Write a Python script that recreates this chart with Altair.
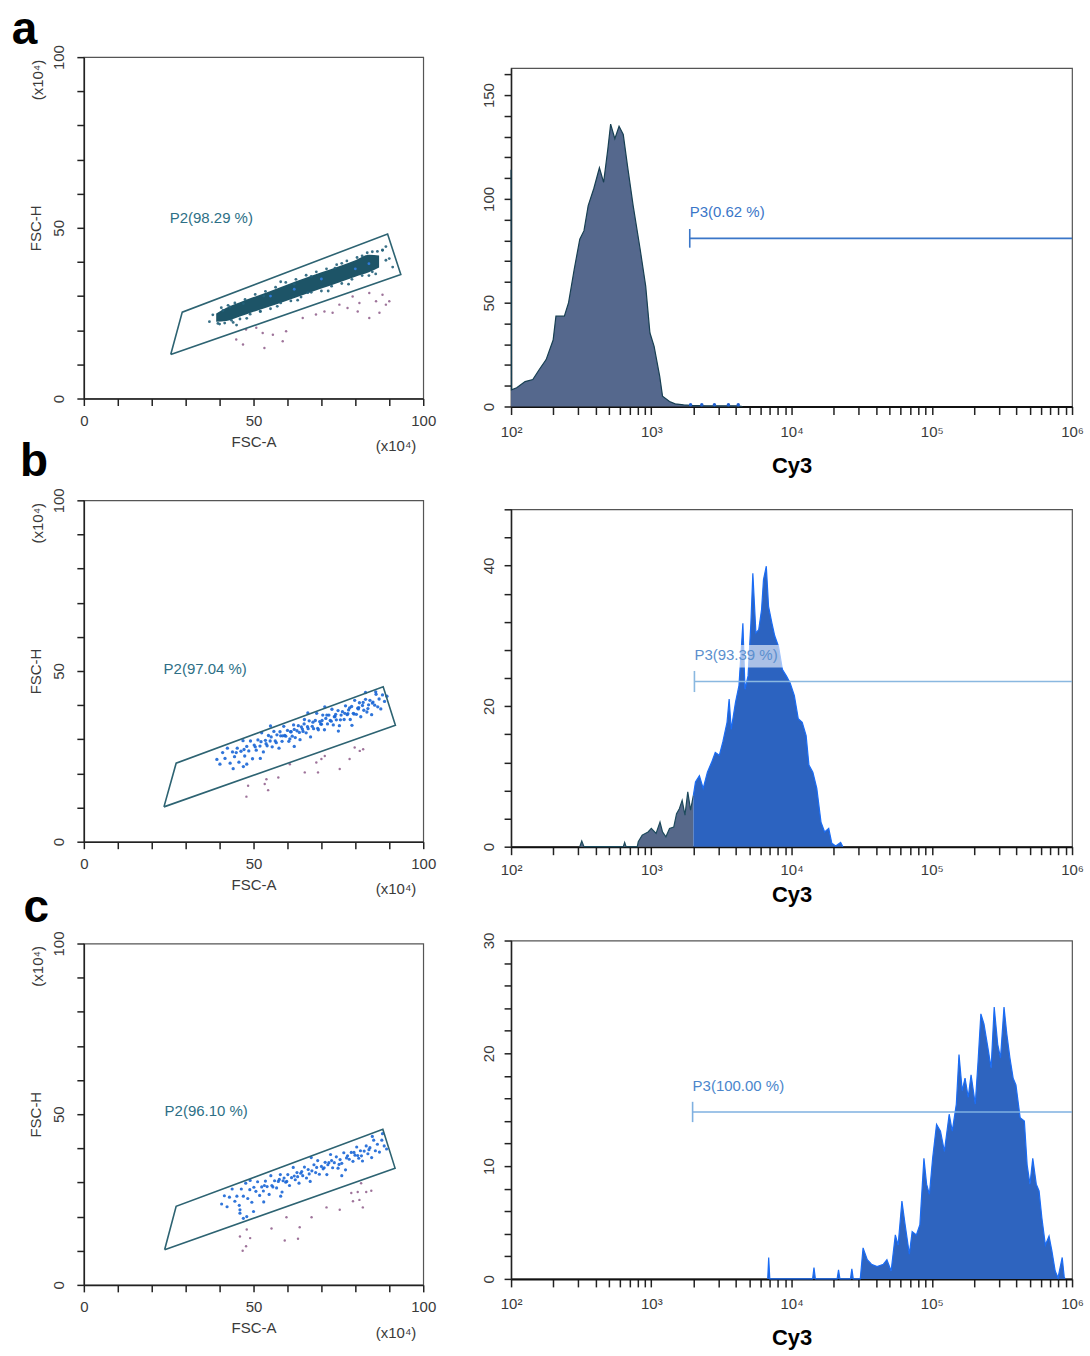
import altair as alt
import pandas as pd

FONT = "Liberation Sans"
TXT = "#3a3a3a"

# ---------------- scatter (FSC-A vs FSC-H) data ----------------
GATE_A_X = [25.6, 29.0, 89.5, 93.4, 25.6]
GATE_A_Y = [12.9, 25.3, 48.2, 36.3, 12.9]
GATE_B_X = [23.6, 27.2, 88.2, 91.8, 23.6]
GATE_B_Y = [10.2, 23.0, 45.4, 34.1, 10.2]
GATE_C_X = [23.8, 27.2, 88.1, 91.7, 23.8]
GATE_C_Y = [10.3, 23.0, 45.6, 34.2, 10.3]

BAND_A_X = [39, 42, 46, 50, 55, 60, 65, 70, 75, 80, 84, 87]
BAND_A_LO = [22.5, 22.7, 24.0, 25.4, 27.0, 28.7, 30.5, 32.2, 33.9, 35.7, 37.0, 38.4]
BAND_A_HI = [24.9, 26.6, 28.2, 29.7, 31.5, 33.4, 35.2, 37.0, 38.7, 40.5, 42.1, 41.9]

PTS_A_X = [37, 38, 40, 41, 44, 47, 52, 53, 57, 62, 63, 67, 72, 74, 78, 82, 86, 88, 90, 91, 89, 85, 45, 48, 66,
           43, 58, 76, 84,
           39.5, 40.5, 41.5, 42.5, 43.5, 44.5, 46.0, 47.5, 49.0, 50.5, 52.0, 53.5, 55.0, 56.5, 58.0, 59.5,
           61.0, 62.5, 64.0, 65.5, 67.0, 68.5, 70.0, 71.5, 73.0, 74.5, 76.0, 77.5, 79.0, 80.5, 82.0, 83.5,
           85.0, 86.5, 88.0, 89.0]
PTS_A_Y = [22.5, 24.5, 21.8, 25.8, 22.3, 27.8, 25.5, 30.0, 27.0, 33.5, 28.8, 35.8, 31.5, 38.2, 33.5, 41.8, 36.5,
           43.5, 41.0, 38.5, 44.5, 43.0, 21.5, 23.5, 31.0, 26.8, 34.2, 39.6, 36.0,
           22.0, 26.6, 22.1, 27.3, 22.9, 28.0, 23.3, 29.0, 24.7, 30.5, 25.5, 31.4, 26.3, 32.6, 28.0, 34.0,
           28.6, 34.9, 29.7, 36.1, 31.1, 37.1, 31.5, 38.0, 32.9, 39.2, 33.7, 40.3, 34.9, 41.3, 36.0, 42.7,
           37.1, 43.1, 43.4, 40.5]
BLUE_A_X = [55, 62, 70, 80, 84]
BLUE_A_Y = [30.0, 32.0, 35.0, 38.0, 39.5]

OUT_A_X = [44.9, 46.9, 53.2, 50.8, 55.7, 58.6, 59.6, 52.7, 64.5, 68.4, 70.9, 73.3, 75.3, 77.7, 81.2, 84.1,
           86.1, 88.0, 89.0, 90.0, 84.1, 87.1, 80.7, 79.2, 47.8]
OUT_A_Y = [17.3, 15.8, 14.8, 20.7, 18.7, 16.8, 19.7, 19.2, 23.6, 24.6, 25.5, 25.1, 27.5, 26.5, 28.0, 30.9,
           28.5, 30.4, 27.5, 28.5, 23.6, 25.1, 25.5, 29.9, 20.2]

PTS_B_X = [39.2, 40.1, 40.9, 41.6, 42.3, 43.1, 43.8, 44.4, 45.2, 45.7, 46.3, 46.9, 47.4, 48.0, 48.6, 49.1,
           49.7, 50.2, 50.8, 51.3, 51.9, 52.4, 52.9, 53.5, 54.0, 54.4, 54.9, 55.5, 56.0, 56.4, 56.9, 57.5,
           58.0, 58.4, 58.9, 59.5, 60.0, 60.4, 60.9, 61.4, 61.8, 62.3, 62.8, 63.2, 63.7, 64.1, 64.6, 65.0,
           65.5, 65.9, 66.4, 66.8, 67.3, 67.7, 68.2, 68.6, 69.1, 69.5, 70.0, 70.4, 70.9, 71.3, 71.8, 72.2,
           72.6, 73.1, 73.5, 74.0, 74.4, 74.9, 75.3, 75.8, 76.2, 76.7, 77.1, 77.6, 78.0, 78.5, 78.9, 79.4,
           79.8, 80.3, 80.7, 81.2, 81.6, 82.1, 82.5, 83.0, 83.4, 83.9, 84.3, 84.8, 85.2, 85.7, 86.1, 86.6,
           87.0, 87.5, 88.0, 88.6, 89.3,
           52.2, 53.7, 55.2, 56.7, 57.8, 59.2, 60.7, 62.0, 63.5, 64.9, 66.1, 67.5, 68.9, 70.2, 71.6, 72.9,
           74.2, 75.6, 76.9, 78.3, 79.6, 81.0, 82.3, 83.7, 85.0, 58.6, 61.1, 64.4, 69.8, 73.8, 77.8, 80.9,
           50.5, 47.2, 44.9,
           48.0, 55.0, 62.0, 71.0, 79.0, 86.0, 52.0, 66.0, 75.0, 83.0, 44.0, 47.0]
PTS_B_Y = [24.1, 22.7, 26.1, 24.4, 27.4, 23.0, 26.3, 24.9, 27.4, 23.3, 26.5, 29.6, 25.1, 27.9, 26.6, 29.5,
           24.3, 28.3, 26.8, 29.8, 28.0, 31.9, 26.3, 29.7, 28.1, 31.1, 29.5, 27.8, 32.3, 29.5, 31.3, 27.4,
           31.0, 29.4, 33.8, 30.9, 32.6, 29.4, 32.2, 30.9, 34.2, 30.5, 32.5, 34.0, 29.9, 33.6, 32.3, 35.8,
           31.9, 33.7, 35.4, 30.7, 33.8, 33.1, 35.5, 37.6, 32.8, 35.2, 34.4, 37.1, 32.8, 36.1, 34.5, 37.1,
           35.5, 38.8, 34.2, 36.7, 35.7, 38.4, 34.0, 37.1, 38.1, 35.8, 39.8, 37.2, 38.6, 35.8, 39.6, 37.6,
           41.4, 37.3, 39.1, 40.7, 36.6, 39.9, 38.5, 41.7, 38.0, 40.1, 41.4, 37.2, 40.9, 40.0, 43.2, 39.5,
           41.8, 38.9, 43.0, 41.1, 42.6,
           29.3, 28.7, 30.7, 29.0, 32.2, 31.1, 30.1, 32.9, 32.0, 34.5, 33.1, 35.0, 33.2, 35.5, 37.1, 35.3,
           37.3, 35.7, 37.6, 39.2, 37.4, 39.3, 40.8, 39.0, 40.6, 31.0, 32.2, 33.0, 34.5, 36.6, 37.5, 38.9,
           27.8, 27.0, 26.1,
           22.7, 33.9, 27.9, 39.5, 34.1, 43.9, 24.4, 37.7, 32.4, 43.7, 21.4, 22.0]

OUT_B_X = [48.4, 47.9, 53.8, 54.3, 57.3, 65.1, 69.0, 68.5, 70.0, 71.0, 75.4, 78.3, 79.8, 81.3, 82.3, 60.7, 53.3]
OUT_B_Y = [16.4, 13.2, 18.3, 15.1, 18.8, 20.3, 20.3, 23.2, 24.2, 25.1, 21.3, 24.2, 27.6, 26.6, 27.1, 22.7, 16.9]

PTS_C_X = [40.6, 41.4, 42.2, 42.9, 43.7, 44.5, 45.1, 45.8, 46.4, 47.0, 47.7, 48.3, 48.9, 49.5, 50.1, 50.7,
           51.2, 51.8, 52.4, 52.9, 53.5, 54.0, 54.6, 55.1, 55.7, 56.2, 56.8, 57.3, 57.9, 58.4, 59.0, 59.5,
           60.1, 60.6, 61.2, 61.7, 62.3, 62.8, 63.4, 63.9, 64.5, 65.0, 65.6, 66.1, 66.7, 67.2, 67.8, 68.3,
           68.9, 69.4, 70.0, 70.5, 71.1, 71.6, 72.2, 72.7, 73.3, 73.8, 74.4, 74.9, 75.5, 76.0, 76.6, 77.1,
           77.7, 78.2, 78.8, 79.3, 79.9, 80.4, 81.0, 81.5, 82.1, 82.6, 83.2, 83.7, 84.3, 84.8, 85.4, 85.9,
           86.5, 87.1, 87.8, 88.5, 89.2,
           53.2, 55.4, 57.6, 59.8, 62.0, 64.2, 66.4, 68.6, 70.8, 73.0, 75.2, 77.4, 79.6, 81.8, 84.0, 58.7,
           63.0, 71.9, 80.7,
           46.0, 49.0, 58.0, 67.0, 76.0, 85.0, 53.0, 88.0, 48.0, 46.0, 50.0, 47.0]
PTS_C_Y = [23.7, 26.1, 22.9, 25.7, 28.1, 24.5, 26.0, 23.3, 28.1, 26.0, 29.8, 25.3, 27.9, 24.2, 28.6, 27.4,
           30.2, 26.2, 28.7, 27.5, 30.4, 28.8, 26.5, 32.0, 28.7, 30.5, 28.4, 30.3, 32.3, 27.2, 31.3, 30.1,
           32.3, 29.1, 31.4, 34.4, 30.8, 32.9, 29.8, 32.7, 32.0, 34.5, 31.3, 33.8, 30.3, 33.4, 35.2, 32.9,
           36.4, 32.4, 34.7, 34.0, 35.9, 32.3, 35.8, 38.2, 34.3, 35.8, 37.5, 34.2, 36.7, 35.6, 38.7, 33.7,
           37.8, 36.8, 38.8, 36.2, 38.0, 40.4, 37.1, 39.3, 36.3, 39.2, 40.7, 38.4, 40.2, 37.3, 42.4, 39.3,
           41.2, 38.9, 42.4, 40.7, 39.8,
           29.1, 29.1, 30.9, 30.3, 31.9, 33.2, 32.5, 34.4, 34.3, 36.4, 35.3, 37.2, 38.8, 37.8, 39.6, 30.5,
           31.7, 35.2, 37.9,
           22.0, 30.6, 26.0, 37.3, 32.0, 43.5, 24.3, 44.3, 20.0, 21.0, 21.5, 19.5]

OUT_C_X = [46.0, 48.0, 49.0, 47.8, 46.8, 55.3, 59.2, 59.7, 63.1, 63.6, 67.1, 71.5, 75.4, 78.8, 79.3, 80.7,
           81.2, 82.2, 83.2, 84.7, 81.7]
OUT_C_Y = [14.2, 16.2, 13.7, 11.3, 10.0, 16.5, 13.0, 19.8, 13.5, 16.9, 19.8, 22.7, 22.0, 26.9, 24.5, 27.2,
           24.9, 22.7, 27.2, 27.6, 29.8]

# ---------------- Cy3 histogram data (log10 of Cy3, count) ----------------
HA_LX = [2.0, 2.003, 2.04, 2.1, 2.155, 2.2, 2.25, 2.3, 2.32, 2.38, 2.41, 2.45, 2.49, 2.52, 2.55, 2.59,
         2.63, 2.66, 2.69, 2.71, 2.74, 2.77, 2.8, 2.83, 2.87, 2.92, 2.96, 2.99, 3.02, 3.06, 3.08, 3.13,
         3.17, 3.23, 3.28, 3.39, 3.5, 3.62, 3.65]
HA_C = [114, 8, 9, 12, 13, 17.7, 22.6, 32, 43.5, 43.5, 50, 66, 80.6, 84.7, 96.8, 105, 115, 108, 124, 136,
        129, 135, 131, 116, 97, 76, 58, 35.5, 29, 14.5, 5, 2.4, 1.3, 0.8, 0.5, 0.3, 0.3, 0.3, 0]
HA_DOT_LX = [3.28, 3.36, 3.45, 3.55, 3.62]

HB_LO_LX = [2.49, 2.504, 2.52, 2.80, 2.81, 2.82, 2.90, 2.907, 2.935, 2.977, 3.0, 3.034, 3.062, 3.08, 3.104,
            3.13, 3.16, 3.18, 3.20, 3.22, 3.24, 3.26, 3.28, 3.30]
HB_LO_C = [0, 0.8, 0, 0, 0.6, 0, 0, 0.7, 1.65, 2.1, 2.6, 1.9, 3.5, 2.1, 1.4, 2.6, 2.8, 4.7, 5.4, 6.6, 4.5,
           7.8, 5.2, 7.3]
HB_HI_LX = [3.30, 3.315, 3.343, 3.37, 3.40, 3.43, 3.456, 3.485, 3.51, 3.54, 3.555, 3.57, 3.60, 3.625, 3.653,
            3.668, 3.69, 3.71, 3.724, 3.746, 3.766, 3.786, 3.80, 3.82, 3.836, 3.86, 3.88, 3.907, 3.935,
            3.963, 3.99, 4.02, 4.048, 4.076, 4.104, 4.124, 4.152, 4.18, 4.21, 4.236, 4.265, 4.287, 4.315,
            4.35, 4.366]
HB_HI_C = [7.3, 9.2, 10.1, 8.3, 10.6, 12.0, 13.4, 13.0, 14.9, 17.7, 21.0, 16.7, 20.5, 22.9, 31.8, 22.4, 24.3,
           31.8, 38.9, 30.4, 30.9, 33.7, 38.0, 39.9, 34.2, 31.8, 30.0, 28.5, 25.2, 24.3, 23.3, 21.5, 18.2,
           17.7, 15.8, 11.6, 10.6, 8.3, 3.5, 2.1, 2.6, 0.5, 0.1, 0.6, 0]

HC_LX = [3.83, 3.837, 3.845, 4.15, 4.16, 4.17, 4.325, 4.335, 4.345, 4.42, 4.43, 4.44, 4.49, 4.51, 4.54, 4.57,
         4.61, 4.655, 4.68, 4.71, 4.74, 4.76, 4.787, 4.81, 4.84, 4.86, 4.89, 4.915, 4.944, 4.963, 4.983,
         5.006, 5.034, 5.062, 5.09, 5.124, 5.146, 5.175, 5.194, 5.217, 5.237, 5.26, 5.28, 5.31, 5.33, 5.35,
         5.372, 5.40, 5.423, 5.445, 5.47, 5.49, 5.515, 5.535, 5.557, 5.58, 5.60, 5.63, 5.66, 5.68, 5.70,
         5.72, 5.745, 5.765, 5.785, 5.81, 5.836, 5.856, 5.88, 5.9, 5.93, 5.944, 5.95]
HC_C = [0, 1.9, 0, 0, 1.0, 0, 0, 0.8, 0, 0, 0.9, 0, 0, 2.75, 1.7, 1.3, 1.1, 1.3, 1.7, 0.7, 3.9, 3.0, 6.9,
        4.8, 2.2, 4.2, 3.9, 4.8, 10.7, 8.4, 7.5, 10.7, 13.7, 13.1, 11.3, 14.6, 13.1, 15.5, 19.9, 16.7, 17.8,
        16.1, 18.1, 15.5, 19.3, 23.5, 22.6, 20.5, 18.7, 24.1, 20.8, 19.6, 24.1, 21.7, 19.6, 17.8, 17.2,
        14.3, 14.0, 10.1, 8.4, 10.7, 8.4, 7.8, 5.4, 3.0, 3.8, 2.5, 0.7, 0.1, 1.9, 0.2, 0]

HX_TICKS = [m * 10 ** e for e in range(2, 6) for m in range(1, 10)] + [10 ** 6]
HX_LABELS = ("datum.value == 100 ? '10²' : datum.value == 1000 ? '10³' : datum.value == 10000 ? '10⁴' : "
             "datum.value == 100000 ? '10⁵' : datum.value == 1000000 ? '10⁶' : ''")


def scatter(gx, gy, px, py, pcol, psize, ox, oy, label, lab_x, lab_y, letter, let_x, let_y,
            band=None, blue=None, xlab_pad=8):
    xs = alt.Scale(domain=[0, 100], nice=False, zero=False)
    ys = alt.Scale(domain=[0, 100], nice=False, zero=False)
    xax = alt.Axis(values=list(range(0, 101, 10)), labelExpr="datum.value % 50 == 0 ? datum.label : ''",
                   title="FSC-A", titleFontWeight="normal", titleFontSize=15, titleColor=TXT, titleFont=FONT,
                   titlePadding=6, labelFontSize=15, labelColor=TXT, labelFont=FONT, labelPadding=xlab_pad,
                   tickSize=7, tickColor="#222", tickWidth=1.5, domainColor="#222", domainWidth=1.5,
                   grid=False, labelFlush=False, labelOverlap=False)
    yax = alt.Axis(values=list(range(0, 101, 10)), labelExpr="datum.value % 50 == 0 ? datum.label : ''",
                   title="FSC-H", titleFontWeight="normal", titleFontSize=15, titleColor=TXT, titleFont=FONT,
                   titlePadding=8, labelFontSize=15, labelColor=TXT, labelFont=FONT, labelPadding=10,
                   labelAngle=270, labelAlign="center", labelBaseline="bottom",
                   tickSize=7, tickColor="#222", tickWidth=1.5, domainColor="#222", domainWidth=1.5,
                   grid=False, labelFlush=False, labelOverlap=False)
    X = alt.X("x:Q", scale=xs, axis=xax)
    Y = alt.Y("y:Q", scale=ys, axis=yax)
    layers = []
    if band is not None:
        bdf = pd.DataFrame({"x": band[0], "y": band[1], "y2": band[2]})
        layers.append(alt.Chart(bdf).mark_area(color="#1d5467", interpolate="monotone")
                      .encode(x=X, y=Y, y2="y2:Q"))
    pdf = pd.DataFrame({"x": px, "y": py})
    layers.append(alt.Chart(pdf).mark_circle(size=psize, color=pcol, opacity=0.9).encode(x=X, y=Y))
    if blue is not None:
        bldf = pd.DataFrame({"x": blue[0], "y": blue[1]})
        layers.append(alt.Chart(bldf).mark_circle(size=8, color="#2f7ad8", opacity=1).encode(x=X, y=Y))
    odf = pd.DataFrame({"x": ox, "y": oy})
    layers.append(alt.Chart(odf).mark_circle(size=6, color="#7d4478", opacity=0.75).encode(x=X, y=Y))
    gdf = pd.DataFrame({"x": gx, "y": gy, "o": list(range(len(gx)))})
    layers.append(alt.Chart(gdf).mark_line(color="#2d6372", strokeWidth=1.6).encode(x=X, y=Y, order="o:Q"))
    tdf = pd.DataFrame({"x": [lab_x], "y": [lab_y], "t": [label]})
    layers.append(alt.Chart(tdf).mark_text(align="left", baseline="middle", fontSize=15, font=FONT,
                                           color="#2d6f86").encode(x=X, y=Y, text="t:N"))
    ldf = pd.DataFrame({"x": [let_x], "y": [let_y], "t": [letter]})
    layers.append(alt.Chart(ldf).mark_text(align="center", baseline="middle", fontSize=46, font=FONT,
                                           fontWeight="bold", color="black").encode(x=X, y=Y, text="t:N"))
    udf = pd.DataFrame({"x": [92.0], "y": [-14.0], "t": ["(x10⁴)"]})
    layers.append(alt.Chart(udf).mark_text(align="center", baseline="middle", fontSize=15, font=FONT,
                                           color=TXT).encode(x=X, y=Y, text="t:N"))
    vdf = pd.DataFrame({"x": [-13.5], "y": [93.3], "t": ["(x10⁴)"]})
    layers.append(alt.Chart(vdf).mark_text(align="center", baseline="middle", fontSize=15, font=FONT,
                                           color=TXT, angle=270).encode(x=X, y=Y, text="t:N"))
    return alt.layer(*layers).properties(width=340, height=342)


def hist(parts, ymax, ystep, ylab_step, height, gate_x, gate_y, gate_h, label, lab_y, gate_col, lab_col,
         title_pad, lab_pad, dots=None, box=None):
    xs = alt.Scale(type="log", domain=[100, 1000000], nice=False)
    ys = alt.Scale(domain=[0, ymax], nice=False, zero=True)
    xax = alt.Axis(values=HX_TICKS, labelExpr=HX_LABELS, title="Cy3", titleFontSize=22, titleFont=FONT,
                   titleFontWeight="bold", titleColor="black", titlePadding=title_pad,
                   labelFontSize=15, labelColor=TXT, labelFont=FONT, labelPadding=lab_pad,
                   tickSize=8, tickColor="#222", tickWidth=1.5, domainColor="#111", domainWidth=2,
                   grid=False, labelFlush=False, labelOverlap=False, labelBound=False)
    yax = alt.Axis(values=[v for v in range(0, int(ymax) + 1, ystep)],
                   labelExpr="datum.value %% %d == 0 ? datum.label : ''" % ylab_step,
                   title=None, labelFontSize=15, labelColor=TXT, labelFont=FONT, labelPadding=8,
                   labelAngle=270, labelAlign="center", labelBaseline="bottom",
                   tickSize=7, tickColor="#222", tickWidth=1.5, domainColor="#222", domainWidth=1.5,
                   grid=False, labelFlush=False, labelOverlap=False)
    X = alt.X("v:Q", scale=xs, axis=xax)
    Y = alt.Y("c:Q", scale=ys, axis=yax)
    layers = []
    for lxs, cs, fill, line in parts:
        df = pd.DataFrame({"v": [10 ** l for l in lxs], "c": cs})
        layers.append(alt.Chart(df).mark_area(color=fill, interpolate="linear").encode(x=X, y=Y))
        layers.append(alt.Chart(df).mark_line(color=line, strokeWidth=1.2, interpolate="linear")
                      .encode(x=X, y=Y))
    if dots is not None:
        ddf = pd.DataFrame({"v": [10 ** l for l in dots], "c": [0.8] * len(dots)})
        layers.append(alt.Chart(ddf).mark_circle(size=12, color="#1f5fd0", opacity=1).encode(x=X, y=Y))
    gdf = pd.DataFrame({"v": [gate_x], "v2": [1000000], "c": [gate_y], "lo": [gate_y - gate_h],
                        "hi": [gate_y + gate_h]})
    layers.append(alt.Chart(gdf).mark_rule(color=gate_col, strokeWidth=1.6)
                  .encode(x=X, x2="v2:Q", y=Y))
    layers.append(alt.Chart(gdf).mark_rule(color=gate_col, strokeWidth=1.6)
                  .encode(x=X, y=alt.Y("lo:Q", scale=ys, axis=yax), y2="hi:Q"))
    if box is not None:
        bdf = pd.DataFrame({"v": [box[0]], "v2": [box[1]], "c": [box[2]], "c2": [box[3]]})
        layers.append(alt.Chart(bdf).mark_rect(color="white", opacity=0.6)
                      .encode(x=X, x2="v2:Q", y=Y, y2="c2:Q"))
    tdf = pd.DataFrame({"v": [gate_x], "c": [lab_y], "t": [label]})
    layers.append(alt.Chart(tdf).mark_text(align="left", baseline="middle", fontSize=15, font=FONT,
                                           color=lab_col).encode(x=X, y=Y, text="t:N"))
    return alt.layer(*layers).properties(width=562, height=height)


def spacer(w, h):
    df = pd.DataFrame({"x": [0]})
    return alt.Chart(df).mark_point(opacity=0, size=4).encode(
        x=alt.value(0), y=alt.value(0)
    ).properties(width=w, height=h, view=alt.ViewBackground(stroke="transparent"))


sa = scatter(GATE_A_X, GATE_A_Y, PTS_A_X, PTS_A_Y, "#24607a", 8, OUT_A_X, OUT_A_Y, "P2(98.29 %)", 25.3, 52.9,
             "a", -17.5, 107.8, band=(BAND_A_X, BAND_A_LO, BAND_A_HI), blue=(BLUE_A_X, BLUE_A_Y))
sb = scatter(GATE_B_X, GATE_B_Y, PTS_B_X, PTS_B_Y, "#1a66d6", 11, OUT_B_X, OUT_B_Y, "P2(97.04 %)", 23.5, 50.6,
             "b", -14.7, 111.2)
sc = scatter(GATE_C_X, GATE_C_Y, PTS_C_X, PTS_C_Y, "#1a66d6", 10, OUT_C_X, OUT_C_Y, "P2(96.10 %)", 23.8, 50.9,
             "c", -14.0, 110.4)

ha = hist([(HA_LX, HA_C, "#55688d", "#173f52")], 163, 10, 50, 339, 1880, 81, 4.5, "P3(0.62 %)", 93.7,
          "#3a76c8", "#3a76c8", 16, 10, dots=HA_DOT_LX)
hb = hist([(HB_LO_LX, HB_LO_C, "#56688a", "#1d4a5c"), (HB_HI_LX, HB_HI_C, "#2c63c0", "#1a6cf5")],
          48, 4, 20, 338, 2030, 23.5, 1.5, "P3(93.39 %)", 27.2, "#8ab8e0", "#5b8fce", 7, 8,
          box=(3930, 9660, 25.5, 28.7))
hc = hist([(HC_LX, HC_C, "#2e64bf", "#1a6cf5")], 30, 2, 10, 339, 1970, 14.8, 0.9, "P3(100.00 %)", 17.1,
          "#7fb0e0", "#4b86cc", 16, 10)

col1 = alt.vconcat(sa, sb, sc, spacing=102, bounds="flush")
col2 = alt.vconcat(spacer(562, 11), ha, spacer(562, 103), hb, spacer(562, 94), hc, spacing=0, bounds="flush")

chart = alt.hconcat(col1, col2, spacing=43).properties(
    padding={"left": 11, "top": 5, "right": 5, "bottom": 2}, background="white"
).configure_view(stroke="#555", strokeWidth=1.2)

chart.save("out.html", embed_options={"renderer": "svg", "actions": False})
